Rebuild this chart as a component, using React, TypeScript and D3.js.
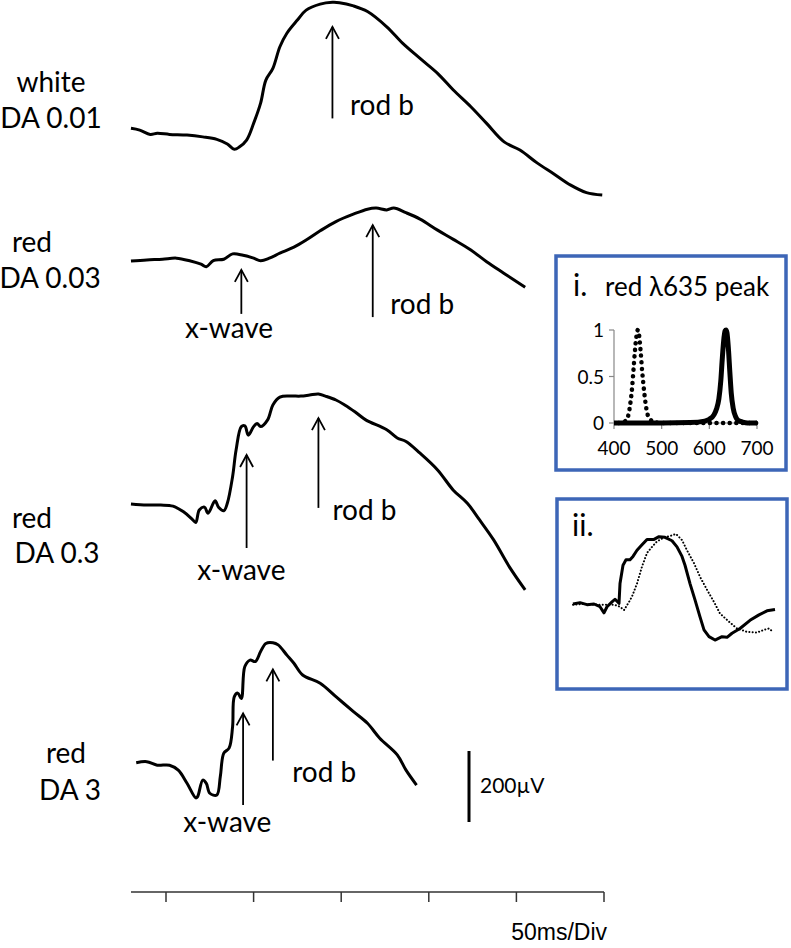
import React from "react";
import * as d3 from "d3";

// ERG traces: [time in ms after flash, amplitude in µV relative to pre-flash baseline]
const whiteDA001: [number, number][] = [
  [-20, -1], [-15, -6], [-9, -18], [-5, -15], [2, -18], [12, -20], [21, -25], [29, -32],
  [35, -45], [39, -60], [42, -53], [46, -34], [50, 13], [54, 70], [57, 135], [61, 168],
  [65, 229], [69, 267], [75, 304], [80, 332], [88, 349], [95, 354], [99, 353], [107, 344],
  [115, 328], [126, 285], [135, 239], [145, 196], [155, 154], [164, 107], [174, 60],
  [183, 13], [193, -39], [202, -62], [212, -99], [221, -128], [231, -161], [240, -182], [249, -189],
];

const redDA003: [number, number][] = [
  [-20, 0], [-11, 3], [-2, 5], [6, 8], [14, 0], [20, -9], [23, -16], [27, 1], [33, 5],
  [38, 20], [44, 16], [50, 8], [54, 1], [59, 8], [65, 22], [73, 39], [80, 59], [88, 85],
  [97, 111], [107, 132], [115, 146], [120, 149], [126, 144], [130, 149], [137, 136],
  [145, 118], [155, 87], [164, 61], [174, 31], [183, -2], [193, -35], [205, -74],
];

const redDA03: [number, number][] = [
  [-20, 0], [-11, -3], [-3, -3], [4, -6], [10, -22], [15, -43], [17, -52], [19, -17],
  [22, -9], [24, -26], [28, 9], [30, -9], [33, -19], [35, 2], [38, 77], [40, 152],
  [43, 218], [45, 220], [47, 194], [50, 218], [52, 227], [54, 218], [58, 237], [61, 279],
  [65, 301], [71, 304], [77, 304], [82, 307], [87, 310], [91, 304], [97, 293], [102, 279],
  [108, 259], [114, 237], [126, 209], [132, 186], [137, 176], [145, 143], [155, 96],
  [164, 39], [172, 2], [179, -45], [187, -101], [196, -177], [205, -242],
];

const redDA3: [number, number][] = [
  [-17, -2], [-11, 1], [-5, -9], [2, -9], [7, -23], [12, -60], [17, -101], [18, -98],
  [21, -51], [23, -60], [25, -88], [29, -93], [31, -41], [33, 25], [36, 39], [38, 99],
  [39, 184], [41, 194], [43, 179], [45, 269], [48, 287], [51, 283], [54, 311], [57, 334],
  [61, 336], [64, 330], [69, 301], [73, 278], [78, 245], [88, 222], [97, 184], [107, 142],
  [115, 109], [122, 67], [132, 20], [137, -23], [143, -65],
];

const timeTicks = [0, 50, 100, 150, 200, 250];
const scaleBarMicroV = 200;

// inset i: normalised spectra [wavelength nm, relative output]
const redLed: [number, number][] = [
  [400, 0], [450, 0], [500, 0], [560, 0.005], [590, 0.02], [600, 0.04], [610, 0.09],
  [615, 0.15], [620, 0.26], [624, 0.45], [627, 0.68], [630, 0.88], [633, 0.99], [635, 1.0],
  [637, 0.97], [640, 0.8], [643, 0.55], [646, 0.32], [650, 0.16], [655, 0.07], [660, 0.03],
  [670, 0.01], [680, 0], [700, 0],
];
const blueLed: [number, number][] = [
  [410, 0], [420, 0.01], [428, 0.05], [434, 0.2], [438, 0.38], [441, 0.58], [444, 0.78],
  [447, 0.93], [450, 1.0], [453, 0.93], [456, 0.76], [459, 0.56], [462, 0.4], [466, 0.22],
  [470, 0.1], [476, 0.04], [485, 0.01], [500, 0], [560, 0], [620, 0], [660, 0], [700, 0],
];
const nmTicks = [400, 500, 600, 700];
const relTicks = [0, 0.5, 1];

// inset ii: normalised responses [ms, relative amplitude]
const insetSolid: [number, number][] = [
  [0, 0], [7, 0.02], [14, -0.01], [21, 0], [27, -0.04], [31, -0.13], [34, -0.04], [39, 0.03],
  [42, 0.07], [46, 0.01], [47, 0.3], [50, 0.57], [53, 0.65], [57, 0.65], [60, 0.7], [64, 0.79],
  [69, 0.87], [74, 0.95], [81, 0.95], [86, 0.99], [92, 0.98], [99, 0.93], [104, 0.84],
  [109, 0.7], [112, 0.57], [117, 0.3], [122, 0.06], [127, -0.19], [131, -0.38], [136, -0.48],
  [142, -0.53], [149, -0.48], [154, -0.49], [159, -0.43], [167, -0.36], [177, -0.24],
  [186, -0.16], [194, -0.1], [202, -0.08],
];
const insetDotted: [number, number][] = [
  [0, -0.01], [11, 0], [27, -0.01], [41, -0.01], [47, -0.04], [51, -0.09], [56, 0.03],
  [59, 0.11], [64, 0.3], [69, 0.55], [74, 0.75], [79, 0.84], [84, 0.92], [91, 0.98], [97, 1.0],
  [103, 1.03], [109, 0.94], [114, 0.79], [121, 0.6], [127, 0.4], [134, 0.21], [141, 0.03],
  [147, -0.14], [156, -0.26], [164, -0.36], [174, -0.41], [184, -0.42], [191, -0.38],
  [196, -0.36], [200, -0.41],
];

const FONT = "Lato, 'Open Sans', sans-serif";
const BLUE = "#3d66b7";

const x = d3.scaleLinear().domain([0, 250]).range([166, 604]);
const amp = d3.scaleLinear().domain([0, 200]).range([0, -71]);

const traces = [
  { data: whiteDA001, base: 128, label: [["white", 51, 92], ["DA 0.01", 51, 128]] },
  { data: redDA003, base: 261, label: [["red", 32, 252], ["DA 0.03", 50, 288]] },
  { data: redDA03, base: 504, label: [["red", 32, 528], ["DA 0.3", 57, 563]] },
  { data: redDA3, base: 762, label: [["red", 66, 763], ["DA 3", 70, 800]] },
];

// arrows: trace index, time, tip and tail amplitude, label text and position
const arrows = [
  { tr: 0, t: 95, tip: 285, tail: 27, text: "rod b", lt: 105, lv: 37, anchor: "start" },
  { tr: 1, t: 43, tip: -25, tail: -149, text: "x-wave", lt: 36, lv: -217, anchor: "middle" },
  { tr: 1, t: 118, tip: 101, tail: -158, text: "rod b", lt: 128, lv: -149, anchor: "start" },
  { tr: 2, t: 46, tip: 138, tail: -124, text: "x-wave", lt: 43, lv: -214, anchor: "middle" },
  { tr: 2, t: 87, tip: 242, tail: -11, text: "rod b", lt: 95, lv: -45, anchor: "start" },
  { tr: 3, t: 44, tip: 137, tail: -121, text: "x-wave", lt: 35, lv: -197, anchor: "middle" },
  { tr: 3, t: 61, tip: 261, tail: 4, text: "rod b", lt: 72, lv: -55, anchor: "start" },
];

function Arrow({ x0, y1, y2 }: { x0: number; y1: number; y2: number }) {
  return (
    <g stroke="#000" strokeWidth={1.8} fill="none">
      <line x1={x0} x2={x0} y1={y1} y2={y2} />
      <path d={`M${x0 - 6.5},${y1 + 12} L${x0},${y1} L${x0 + 6.5},${y1 + 12}`} />
    </g>
  );
}

export default function App() {
  const axisY = 892;

  // inset i
  const sx = d3.scaleLinear().domain([400, 700]).range([614, 757]);
  const sy = d3.scaleLinear().domain([0, 1]).range([423, 330]);
  const specLine = d3.line<[number, number]>().x((d) => sx(d[0])).y((d) => sy(d[1])).curve(d3.curveMonotoneX);

  // inset ii
  const ix = d3.scaleLinear().domain([0, 202]).range([573, 775]);
  const iy = d3.scaleLinear().domain([0, 1]).range([604, 536]);
  const insetLine = d3.line<[number, number]>().x((d) => ix(d[0])).y((d) => iy(d[1]));

  return (
    <svg width={791} height={948} style={{ position: "absolute", left: 0, top: 0, background: "#fff" }} fontFamily={FONT}>
      {traces.map((tr, i) => {
        const line = d3
          .line<[number, number]>()
          .x((d) => x(d[0]))
          .y((d) => tr.base + amp(d[1]))
          .curve(d3.curveCatmullRom.alpha(0.5));
        return (
          <g key={i}>
            <path d={line(tr.data) || ""} fill="none" stroke="#000" strokeWidth={3} strokeLinejoin="round" />
            {tr.label.map(([s, lx, ly], j) => (
              <text key={j} x={lx as number} y={ly as number} fontSize={28} textAnchor="middle">
                {s}
              </text>
            ))}
          </g>
        );
      })}

      {arrows.map((a, i) => {
        const base = traces[a.tr].base;
        return (
          <g key={i}>
            <Arrow x0={x(a.t)} y1={base + amp(a.tip)} y2={base + amp(a.tail)} />
            <text x={x(a.lt)} y={base + amp(a.lv)} fontSize={28} textAnchor={a.anchor}>
              {a.text}
            </text>
          </g>
        );
      })}

      {/* 200 µV scale bar */}
      <line x1={469} x2={469} y1={822} y2={822 + amp(scaleBarMicroV)} stroke="#000" strokeWidth={3} />
      <text x={480} y={793} fontSize={21}>
        200µV
      </text>

      {/* time axis */}
      <g stroke="#333" strokeWidth={1.5}>
        <line x1={131} x2={x(250)} y1={axisY} y2={axisY} />
        {timeTicks.map((t) => (
          <line key={t} x1={x(t)} x2={x(t)} y1={axisY} y2={axisY + 10} />
        ))}
      </g>
      <text x={607} y={940} fontSize={23} textAnchor="end" fontFamily="'Liberation Sans', Arial, sans-serif">
        50ms/Div
      </text>

      {/* inset i */}
      <rect x={556} y={256} width={230} height={214} fill="none" stroke={BLUE} strokeWidth={3.5} />
      <text x={573} y={296} fontSize={30}>i.</text>
      <text x={605} y={296} fontSize={26}>red λ635 peak</text>
      <g stroke="#888" strokeWidth={1.2}>
        <line x1={sx(400)} x2={sx(400)} y1={sy(1)} y2={sy(0)} />
        <line x1={sx(400)} x2={sx(700)} y1={sy(0)} y2={sy(0)} />
        {relTicks.map((v) => (
          <line key={v} x1={sx(400) - 5} x2={sx(400)} y1={sy(v)} y2={sy(v)} />
        ))}
        {nmTicks.map((n) => (
          <line key={n} x1={sx(n)} x2={sx(n)} y1={sy(0)} y2={sy(0) + 6} />
        ))}
      </g>
      {relTicks.map((v) => (
        <text key={v} x={sx(400) - 10} y={sy(v) + 7} fontSize={19} textAnchor="end">
          {v}
        </text>
      ))}
      {nmTicks.map((n) => (
        <text key={n} x={sx(n)} y={455} fontSize={19} textAnchor="middle">
          {n}
        </text>
      ))}
      <path d={specLine(redLed) || ""} fill="none" stroke="#000" strokeWidth={5} strokeLinejoin="round" />
      <path d={specLine(blueLed) || ""} fill="none" stroke="#000" strokeWidth={4.5} strokeLinecap="round" strokeDasharray="0.1 6.5" />

      {/* inset ii */}
      <rect x={557} y={499} width={230} height={190} fill="none" stroke={BLUE} strokeWidth={3.5} />
      <text x={572} y={536} fontSize={30}>ii.</text>
      <path d={insetLine(insetDotted) || ""} fill="none" stroke="#000" strokeWidth={2} strokeLinecap="round" strokeDasharray="0.1 3.2" />
      <path d={insetLine(insetSolid) || ""} fill="none" stroke="#000" strokeWidth={3} strokeLinejoin="round" />
    </svg>
  );
}
